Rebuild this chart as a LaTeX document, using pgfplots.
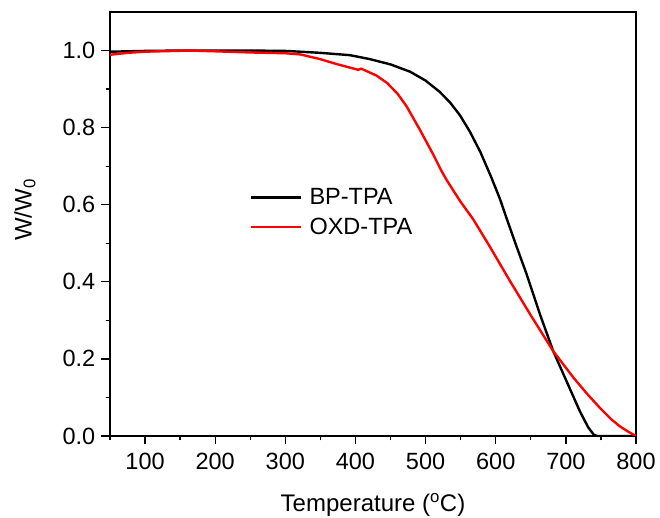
\documentclass[border=0pt]{standalone}
\usepackage{pgfplots}
\pgfplotsset{compat=1.18}
\usepackage{fontspec}
\setmainfont{Liberation Sans}
\begin{document}
\begin{tikzpicture}
\useasboundingbox (-110pt,-82pt) rectangle (550pt,436pt);
\begin{axis}[
  at={(0pt,0pt)}, anchor=south west,
  scale only axis, width=526pt, height=424pt,
  xmin=50, xmax=800, ymin=0, ymax=1.1,
  xtick={100,200,300,400,500,600,700,800},
  minor xtick={50,150,250,350,450,550,650,750},
  ytick={0,0.2,0.4,0.6,0.8,1.0},
  minor ytick={0.1,0.3,0.5,0.7,0.9},
  yticklabel style={inner sep=0pt, anchor=east, xshift=-6pt, /pgf/number format/fixed, /pgf/number format/fixed zerofill, /pgf/number format/precision=1},
  xticklabel style={inner sep=0pt, anchor=north, yshift=-8pt},
  tick pos=left, tick align=outside,
  major tick length=8.5pt, minor tick length=4.3pt,
  every tick/.style={black, line width=1.3pt},
  axis line style={line width=1.3pt},
  font=\fontsize{23.5}{28}\selectfont,
  /pgf/number format/assume math mode=true,
  xlabel={Temperature (\textsuperscript{o}C)},
  ylabel={W/W\textsubscript{0}},
  xlabel style={at={(axis description cs:0.5,-0.1792)}, anchor=base, inner sep=0pt, font=\fontsize{24}{28}\selectfont},
  ylabel style={at={(axis description cs:-0.1489,0.533)}, anchor=base, inner sep=0pt, font=\fontsize{24}{28}\selectfont},
  legend style={draw=none, fill=none, at={(0.266,0.584)}, anchor=north west,
    inner sep=0pt, font=\fontsize{23.5}{28}\selectfont, row sep=12pt,
    nodes={inner sep=0pt}, column sep=7pt},
  legend cell align=left,
  legend image code/.code={\draw[#1] (0pt,0pt) -- (50pt,0pt);},
]
\addplot[black, line width=2.4pt] coordinates {
(50,0.997)(75,0.998)(100,0.999)(150,1.0)(200,1.0)(250,1.0)(300,0.999)
(321,0.997)(350,0.994)(392,0.988)(420,0.978)(450,0.964)(478,0.945)
(500,0.922)(520,0.893)(535,0.865)(549,0.832)(563,0.790)(578,0.737)
(593,0.674)(606,0.615)(616,0.562)(630,0.490)(644,0.420)(663,0.316)
(682,0.220)(701,0.142)(720,0.064)(732,0.022)(740,0.003)(745,0.0)
(770,0.0)(800,0.0)
};
\addlegendentry{BP-TPA}
\addplot[red, line width=2.4pt] coordinates {
(50,0.989)(60,0.991)(75,0.994)(100,0.997)(164,1.0)(200,0.998)(250,0.995)
(300,0.993)(321,0.990)(349,0.978)(375,0.964)(404,0.950)(408,0.953)
(412,0.950)(430,0.935)(445,0.916)(460,0.888)(473,0.855)(492,0.794)
(511,0.730)(522,0.690)(530,0.664)(549,0.610)(568,0.562)(592,0.490)
(620,0.403)(649,0.316)(682,0.220)(711,0.151)(730,0.110)(749,0.072)
(765,0.043)(777,0.025)(790,0.010)(800,0.0)
};
\addlegendentry{OXD-TPA}
\end{axis}
\end{tikzpicture}
\end{document}
